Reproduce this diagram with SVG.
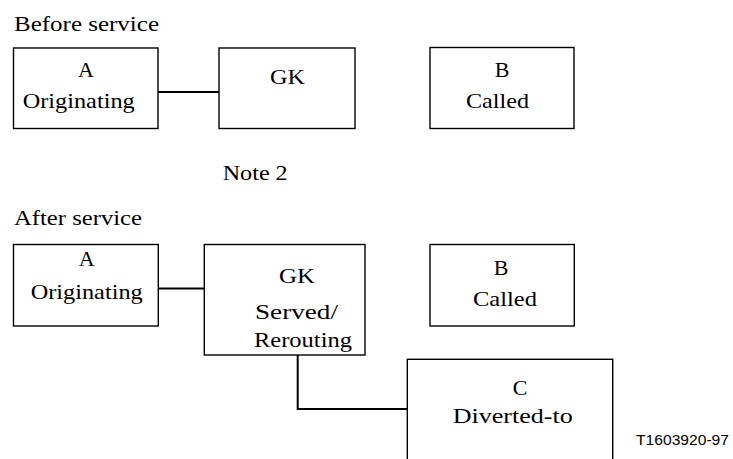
<svg xmlns="http://www.w3.org/2000/svg" width="733" height="459" viewBox="0 0 733 459">
<style>
.box{fill:#fff;stroke:#000;stroke-width:1.4}
.c{fill:none;stroke:#000;stroke-width:2}
.m{text-anchor:middle}
</style>
<rect width="733" height="459" fill="#fff"/>
<g font-family="Liberation Serif, DejaVu Serif, serif" font-size="22" fill="#000">
<text x="14" y="31" textLength="145" lengthAdjust="spacingAndGlyphs">Before service</text>
<g id="connectors">
<line class="c" x1="158" y1="92" x2="219" y2="92"/>
<line class="c" x1="158" y1="288.5" x2="204" y2="288.5"/>
<path class="c" d="M297.7 355 V409 H407.3"/>
</g>
<g id="a1">
<rect class="box" x="13.5" y="48" width="144.5" height="80.5"/>
<text class="m" x="86" y="77">A</text>
<text x="22.7" y="108" textLength="112" lengthAdjust="spacingAndGlyphs">Originating</text>
</g>
<g id="gk1">
<rect class="box" x="219" y="48" width="136" height="80.5"/>
<text x="270" y="83.5" textLength="35" lengthAdjust="spacingAndGlyphs">GK</text>
</g>
<g id="b1">
<rect class="box" x="430" y="47.5" width="144" height="81"/>
<text class="m" x="502" y="77">B</text>
<text x="466" y="108" textLength="63" lengthAdjust="spacingAndGlyphs">Called</text>
</g>
<text x="222.7" y="179.5" textLength="65" lengthAdjust="spacingAndGlyphs">Note 2</text>
<text x="14" y="225" textLength="128" lengthAdjust="spacingAndGlyphs">After service</text>
<g id="a2">
<rect class="box" x="13.5" y="244.5" width="144.8" height="81.5"/>
<text class="m" x="86.7" y="265.7">A</text>
<text x="30.7" y="299.3" textLength="112" lengthAdjust="spacingAndGlyphs">Originating</text>
</g>
<g id="gk2">
<rect class="box" x="204.3" y="244.5" width="160.7" height="110.5"/>
<text x="279" y="283.3" textLength="36" lengthAdjust="spacingAndGlyphs">GK</text>
<text x="255" y="319" textLength="83" lengthAdjust="spacingAndGlyphs">Served/</text>
<text x="254" y="346.7" textLength="98" lengthAdjust="spacingAndGlyphs">Rerouting</text>
</g>
<g id="b2">
<rect class="box" x="430" y="244.5" width="144.3" height="81.5"/>
<text class="m" x="501" y="275">B</text>
<text x="473" y="306" textLength="64" lengthAdjust="spacingAndGlyphs">Called</text>
</g>
<g id="c2">
<rect class="box" x="407.3" y="359.3" width="205.4" height="120"/>
<text class="m" x="520" y="395">C</text>
<text x="452.7" y="423.3" textLength="120" lengthAdjust="spacingAndGlyphs">Diverted-to</text>
</g>
</g>
<text font-family="Liberation Sans, Arial, sans-serif" font-size="15" fill="#000" x="636" y="445" textLength="93" lengthAdjust="spacingAndGlyphs">T1603920-97</text>
</svg>
